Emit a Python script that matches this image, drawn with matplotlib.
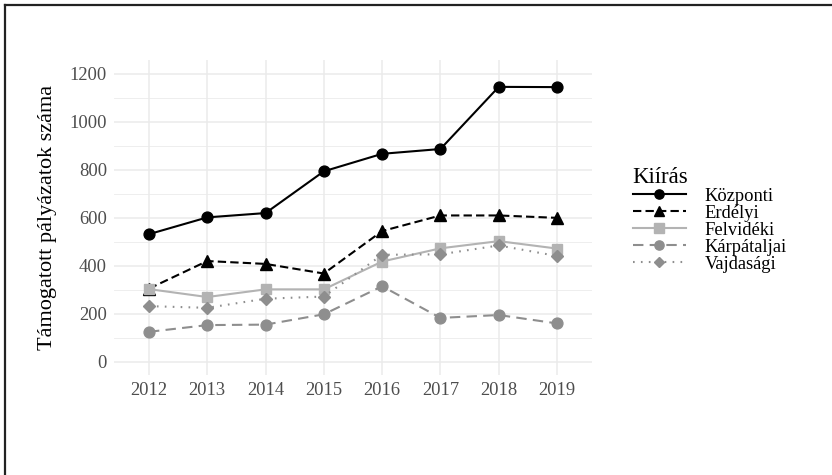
import numpy as np
import matplotlib.pyplot as plt
from matplotlib.lines import Line2D

years = ['2012', '2013', '2014', '2015', '2016', '2017', '2018', '2019']
kozponti = [532, 602, 620, 794, 867, 887, 1146, 1145]
erdelyi = [305, 420, 408, 368, 545, 610, 610, 600]
felvideki = [303, 270, 302, 302, 418, 473, 503, 472]
karpataljai = [125, 153, 155, 198, 315, 183, 195, 160]
vajdasagi = [232, 225, 263, 272, 446, 448, 485, 441]

names = ['Központi', 'Erdélyi', 'Felvidéki', 'Kárpátaljai', 'Vajdasági']

plt.rcParams['font.family'] = ['Liberation Serif', 'DejaVu Serif']

fig = plt.figure(figsize=(8.32, 4.75), dpi=100)
ax = fig.add_axes([114 / 832, 1 - 375 / 475, (592 - 114) / 832, (375 - 60) / 475])

x = np.arange(len(years))
styles = [
    dict(color='black', ls='-', marker='o', ms=7.8),
    dict(color='black', ls=(0, (4, 2)), marker='^', ms=9),
    dict(color='#b3b3b3', ls='-', marker='s', ms=7.8),
    dict(color='#8e8e8e', ls=(0, (5, 3)), marker='o', ms=7.8),
    dict(color='#8e8e8e', ls=(0, (0.8, 3)), marker='D', ms=5.8),
]
series = [kozponti, erdelyi, felvideki, karpataljai, vajdasagi]

handles = []
for vals, st, name in zip(series, styles, names):
    ax.plot(x, vals, color=st['color'], ls=st['ls'], lw=1.5,
            marker=st['marker'], ms=st['ms'], mec=st['color'], mfc=st['color'], zorder=3)
    handles.append(Line2D([], [], color=st['color'], ls=st['ls'], lw=1.5,
                          marker=st['marker'], ms=st['ms'] * 0.85, mec=st['color'], mfc=st['color']))

ax.set_xlim(-0.6, len(years) - 1 + 0.6)
ax.set_ylim(-55, 1258)
ax.set_xticks(x)
ax.set_xticklabels(years)
ax.set_yticks(np.arange(0, 1201, 200))
ax.set_yticks(np.arange(100, 1201, 200), minor=True)
ax.grid(True, which='major', color='#ebebeb', lw=1.1)
ax.grid(True, which='minor', axis='y', color='#ebebeb', lw=0.6)
ax.set_axisbelow(True)
for s in ax.spines.values():
    s.set_visible(False)
ax.tick_params(which='both', length=0, labelsize=13.3, labelcolor='#4d4d4d', pad=5)
ax.set_ylabel('Támogatott pályázatok száma', fontsize=16, labelpad=9)

leg = fig.legend(handles, names, loc='upper left', bbox_to_anchor=(616 / 832, 1 - 150 / 475),
                 frameon=False, title='Kiírás', fontsize=13.3, title_fontsize=16.5,
                 handlelength=2.9, handletextpad=1.0, labelspacing=0.0,
                 alignment='left')

# figure border (top and left only)
fig.add_artist(Line2D([5 / 832, 5 / 832], [0, 1 - 5 / 475], transform=fig.transFigure,
                      color='#222222', lw=1.6))
fig.add_artist(Line2D([5 / 832, 1], [1 - 5 / 475, 1 - 5 / 475], transform=fig.transFigure,
                      color='#222222', lw=1.6))

fig.savefig('out.png', dpi=100)
